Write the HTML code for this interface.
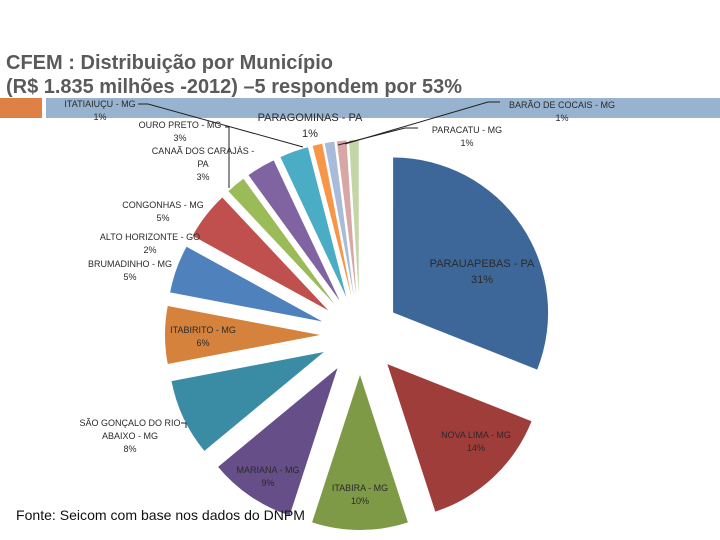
<!DOCTYPE html>
<html><head><meta charset="utf-8"><style>
html,body{margin:0;padding:0;background:#fff;}
svg{display:block;font-family:"Liberation Sans",sans-serif;}
.l{font-size:9px;fill:#2a2a2a;text-anchor:middle;}
.b{font-size:11px;fill:#2a2a2a;text-anchor:middle;}
</style></head><body>
<svg id="c" width="720" height="540" viewBox="0 0 720 540">
<rect x="0" y="98" width="42" height="20" fill="#DF8144"/>
<rect x="46" y="98" width="674" height="20" fill="#98B3D0"/>
<text x="6" y="69" font-size="20" fill="#5a5a5a" font-weight="bold" textLength="327" lengthAdjust="spacingAndGlyphs">CFEM : Distribuição por Município</text>
<text x="6" y="93" font-size="20" fill="#5a5a5a" font-weight="bold" textLength="456" lengthAdjust="spacingAndGlyphs">(R$ 1.835 milhões -2012) –5 respondem por 53%</text>
<g id="slices"></g>
<g stroke="#222" stroke-width="1" fill="none">
<polyline points="138,104 148,104 303,147"/>
<polyline points="225,127 229,127 229,188"/>
<polyline points="500,102 488,102 345,144"/>
<polyline points="418,128 405,128 338,145"/>
<polyline points="181,423 186,423 186,428"/>
</g>
<g id="labels"></g>
<text x="16" y="520" font-size="14" fill="#111" textLength="289" lengthAdjust="spacingAndGlyphs">Fonte: Seicom  com base nos dados do DNPM</text>
</svg>
<script>
const categories=["PARAUAPEBAS - PA","NOVA LIMA - MG","ITABIRA - MG","MARIANA - MG","SÃO GONÇALO DO RIO ABAIXO - MG","ITABIRITO - MG","BRUMADINHO - MG","CONGONHAS - MG","ALTO HORIZONTE - GO","CANAÃ DOS CARAJÁS - PA","OURO PRETO - MG","ITATIAIUÇU - MG","PARAGOMINAS - PA","PARACATU - MG","BARÃO DE COCAIS - MG"];
const values=[31,14,10,9,8,6,5,5,2,3,3,1,1,1,1];
const colors=["#3E6799","#9F3D3A","#7E9A47","#664E88","#3A8CA5","#D4823C","#4F81BD","#C0504D","#9BBB59","#8064A2","#4BACC6","#F79646","#A9BBDA","#D7A6A5","#C5D6A6"];
const labelLines=[["PARAUAPEBAS - PA","31%"],["NOVA LIMA - MG","14%"],["ITABIRA - MG","10%"],["MARIANA - MG","9%"],["SÃO GONÇALO DO RIO","ABAIXO - MG","8%"],["ITABIRITO - MG","6%"],["BRUMADINHO - MG","5%"],["CONGONHAS - MG","5%"],["ALTO HORIZONTE - GO","2%"],["CANAÃ DOS CARAJÁS -","PA","3%"],["OURO PRETO - MG","3%"],["ITATIAIUÇU - MG","1%"],["PARAGOMINAS - PA","1%"],["PARACATU - MG","1%"],["BARÃO DE COCAIS - MG","1%"]];
const labelAnchors=[[482,264],[476,435],[360,488],[268,470],[130,423],[203,330],[130,264],[163,205],[150,237],[203,151],[180,125],[100,104],[310,118],[467,130],[562,105]];
const cx=360,cy=335,R=155,EXP=40;
const total=values.reduce((a,b)=>a+b,0);
const ang=v=>v/total*2*Math.PI;
const g=document.getElementById('slices');
const lg=document.getElementById('labels');
let a0=0;
values.forEach((v,i)=>{
  const a1=a0+ang(v),mid=(a0+a1)/2;
  const ox=cx+EXP*Math.sin(mid),oy=cy-EXP*Math.cos(mid);
  const x0=ox+R*Math.sin(a0),y0=oy-R*Math.cos(a0),x1=ox+R*Math.sin(a1),y1=oy-R*Math.cos(a1);
  const p=document.createElementNS('http://www.w3.org/2000/svg','path');
  p.setAttribute('d',`M${ox},${oy}L${x0},${y0}A${R},${R} 0 ${a1-a0>Math.PI?1:0} 1 ${x1},${y1}Z`);
  p.setAttribute('fill',colors[i]);
  
  
  g.appendChild(p);
  a0=a1;
  const big=(i===0||i===12);
  const t=document.createElementNS('http://www.w3.org/2000/svg','text');
  t.setAttribute('class',big?'b':'l');
  
  
  labelLines[i].forEach((s,k)=>{
    const ts=document.createElementNS('http://www.w3.org/2000/svg','tspan');
    ts.setAttribute('x',labelAnchors[i][0]);
    ts.setAttribute('y',labelAnchors[i][1]+3+k*(big?16:13));
    ts.textContent=s;
    t.appendChild(ts);
  });
  lg.appendChild(t);
});
</script>
</body></html>
